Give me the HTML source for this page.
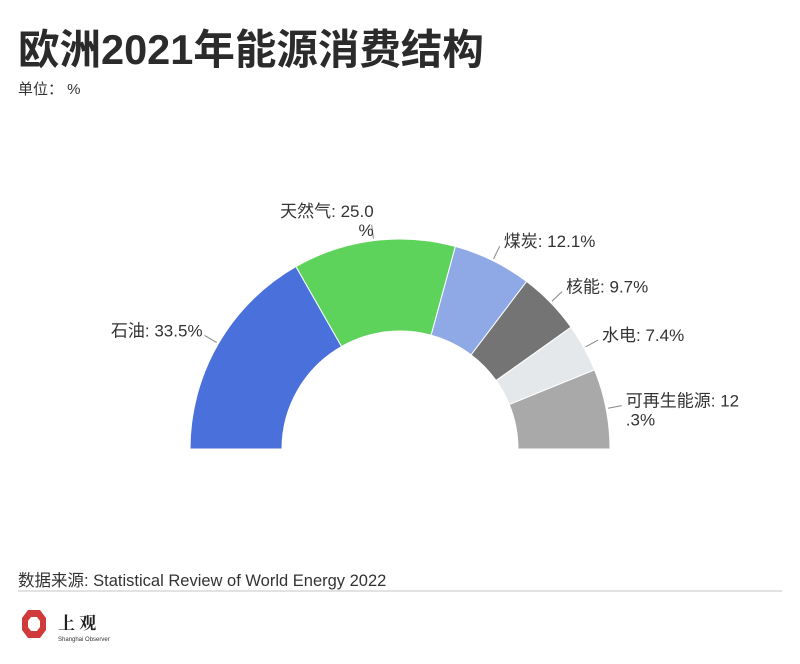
<!DOCTYPE html>
<html><head><meta charset="utf-8"><style>
body{margin:0;width:800px;height:664px;background:#fff;font-family:"Liberation Sans","Noto Sans CJK SC",sans-serif;color:#333;overflow:hidden;position:relative}
.t{position:absolute;white-space:nowrap}
</style></head><body>
<div class="t" style="left:18px;top:16px;font-size:41.5px;font-weight:700;color:#2b2b2b;letter-spacing:0px">欧洲2021年能源消费结构</div>
<div class="t" style="left:18px;top:78px;font-size:15px;color:#333">单位： %</div>
<svg id="chart" width="800" height="560" style="position:absolute;left:0;top:0"></svg>
<div class="t" style="left:18px;top:567px;font-size:16.5px;color:#333">数据来源: Statistical Review of World Energy 2022</div>
<div style="position:absolute;left:18px;top:590px;width:764px;height:2px;background:#e2e2e2"></div>
<svg width="120" height="40" style="position:absolute;left:20px;top:606px">
<polygon points="10,4 22,4 28,12 28,24 22,32 10,32 4,24 4,12" fill="#d03a3a" transform="translate(-2,0)"/>
<polygon points="13,11 19,11 22,15 22,21 19,25 13,25 10,21 10,15" fill="#fff" transform="translate(-2,0)"/>
<text x="38" y="23" font-size="17" font-family="Noto Serif CJK SC,serif" fill="#222" font-weight="700">上 观</text>
<text x="38" y="35" font-size="6" fill="#333">Shanghai Observer</text>
</svg>
<script>
const categories=["石油","天然气","煤炭","核能","水电","可再生能源"];
const values=[33.5,25.0,12.1,9.7,7.4,12.3];
const labelText=["石油: 33.5%","天然气: 25.0\n%","煤炭: 12.1%","核能: 9.7%","水电: 7.4%","可再生能源: 12\n.3%"];
const colors=["#4a70db","#5ed35b","#8fa8e6","#747474","#e5e8ea","#a9a9a9"];
const cx=400,cy=449,R=210,r=118;
const svg=document.getElementById('chart');
const NS='http://www.w3.org/2000/svg';
const total=values.reduce((a,b)=>a+b,0);
function ang(v){return Math.PI-(v/total)*Math.PI;}
function pt(a,rad){return [cx+rad*Math.cos(a),cy-rad*Math.sin(a)];}
let cum=0;
values.forEach((v,i)=>{
  const a0=ang(cum),a1=ang(cum+v);cum+=v;
  const p1=pt(a0,R),p2=pt(a1,R),p3=pt(a1,r),p4=pt(a0,r);
  const large=(a0-a1)>Math.PI?1:0;
  const p=document.createElementNS(NS,'path');
  p.setAttribute('d',`M${p1} A${R},${R} 0 ${large} 1 ${p2} L${p3} A${r},${r} 0 ${large} 0 ${p4} Z`);
  p.setAttribute('fill',colors[i]);p.setAttribute('stroke','#fff');p.setAttribute('stroke-width','1');
  
  
  svg.appendChild(p);
  const am=(a0+a1)/2;
  const q1=pt(am,R+2),q2=pt(am,R+16);
  const ln=document.createElementNS(NS,'line');
  ln.setAttribute('x1',q1[0]);ln.setAttribute('y1',q1[1]);ln.setAttribute('x2',q2[0]);ln.setAttribute('y2',q2[1]);
  ln.setAttribute('stroke','#888');ln.setAttribute('stroke-width','1');
  
  
  svg.appendChild(ln);
  const left=Math.cos(am)<-0.05;
  const lines=labelText[i].split('\n');
  const tx=document.createElementNS(NS,'text');
  tx.setAttribute('font-size','17');tx.setAttribute('fill','#333');
  
  
  let x=q2[0]+(left?-2:4), y=q2[1]+1;
  if(left){tx.setAttribute('text-anchor','end');}
  if(lines.length>1&&Math.sin(am)>0.9){tx.setAttribute('text-anchor','end');x=q2[0]+2;y=q2[1]-8;}
  lines.forEach((s,k)=>{const ts=document.createElementNS(NS,'tspan');ts.setAttribute('x',x);ts.setAttribute('y',y+k*19);ts.textContent=s;tx.appendChild(ts);});
  svg.appendChild(tx);
});
</script>
</body></html>
